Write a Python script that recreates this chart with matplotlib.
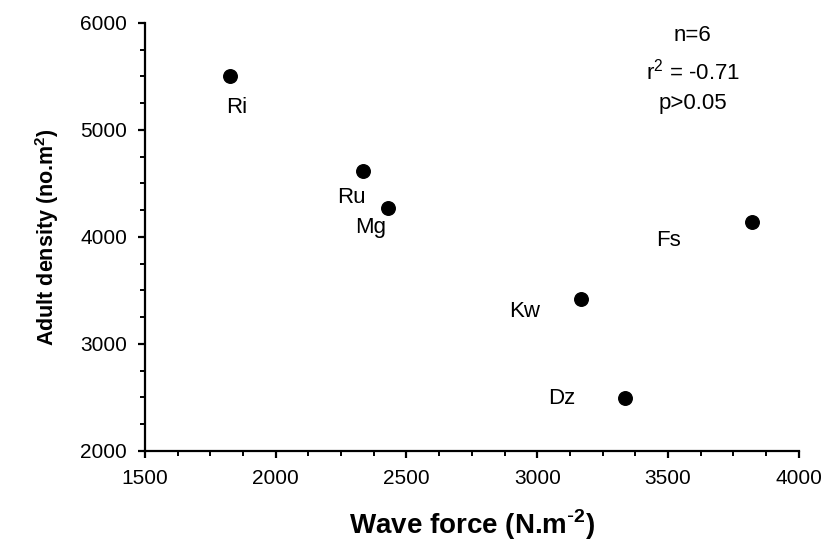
import matplotlib.pyplot as plt
from matplotlib.ticker import MultipleLocator

plt.rcParams['font.family'] = ['Liberation Sans', 'DejaVu Sans']

# Donnees
sites = ['Ri', 'Ru', 'Mg', 'Kw', 'Dz', 'Fs']
wave_force = [1825, 2334, 2429, 3167, 3334, 3822]
adult_density = [5505, 4620, 4268, 3418, 2492, 4137]
# decalage des etiquettes (pixels)
label_dx = [7, -12, -17, -56, -63, -84]
label_dy = [-32, -27, -19, -12, 0, -18]

fig = plt.figure(figsize=(8.26, 5.55), dpi=100)
ax = fig.add_axes([0.1755, 0.1874, 0.7915, 0.7712])

ax.scatter(wave_force, adult_density, s=95, color='black', zorder=3)
for name, x, y, dx, dy in zip(sites, wave_force, adult_density, label_dx, label_dy):
    ax.annotate(name, (x, y), xytext=(dx, dy), textcoords='offset pixels',
                ha='center', va='center', fontsize=16)

ax.set_xlim(1500, 4000)
ax.set_ylim(2000, 6000)
ax.xaxis.set_major_locator(MultipleLocator(500))
ax.xaxis.set_minor_locator(MultipleLocator(125))
ax.yaxis.set_major_locator(MultipleLocator(1000))
ax.yaxis.set_minor_locator(MultipleLocator(250))

for side in ['top', 'right']:
    ax.spines[side].set_visible(False)
for side in ['left', 'bottom']:
    ax.spines[side].set_linewidth(1.6)

ax.tick_params(which='major', length=5, width=1.6, labelsize=15, pad=8)
ax.tick_params(which='minor', length=3.5, width=1.4)

ax.set_xlabel('Wave force (N.m$^{\\mathregular{\\text{-}2}}$)', fontsize=20, fontweight='bold', labelpad=14)
ax.set_ylabel('Adult density (no.m$^{\\mathregular{2}}$)', fontsize=15.5, fontweight='bold', labelpad=14)

ax.text(0.838, 0.970, 'n=6', transform=ax.transAxes, ha='center', va='center', fontsize=16)
ax.text(0.838, 0.886, 'r$^{\\mathregular{2}}$ = -0.71', transform=ax.transAxes, ha='center', va='center', fontsize=16)
ax.text(0.838, 0.813, 'p>0.05', transform=ax.transAxes, ha='center', va='center', fontsize=16)

plt.savefig('out.png', dpi=100)
